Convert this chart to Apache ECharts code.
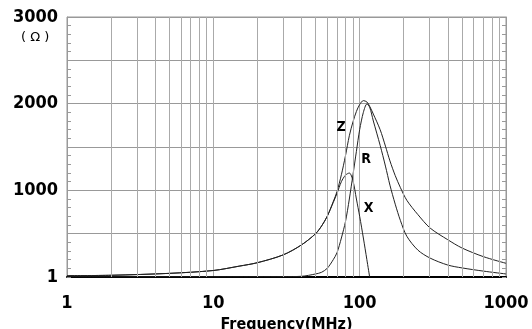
<!DOCTYPE html>
<html>
<head>
<meta charset="utf-8">
<script src="https://cdn.jsdelivr.net/npm/echarts@6/dist/echarts.min.js"></script>
<style>
  html, body { margin: 0; padding: 0; background: #fff; }
  #chart { width: 532px; height: 329px; }
</style>
</head>
<body>
<div id="chart"></div>
<script>
// 频率 (MHz)
const freqs = [1, 2, 5, 10, 15, 20, 30, 40, 50, 55, 60, 66, 70, 75, 80, 85, 90, 95, 100, 106, 112, 117,
  124, 138, 150, 161, 175, 190, 210, 250, 303, 400, 500, 700, 1000];
// 阻抗 Z (Ω)
const zVals = [15, 20, 42, 75, 125, 165, 255, 370, 500, 590, 700, 870, 985, 1180, 1400, 1630, 1790, 1910, 1990, 2035, 2020, 1970,
  1880, 1700, 1510, 1340, 1170, 1030, 885, 720, 565, 430, 335, 235, 158];
// 电阻 R (Ω)
const rVals = [2, 2, 2, 2, 2, 3, 4, 8, 35, 55, 100, 200, 280, 450, 640, 900, 1180, 1450, 1700, 1900, 1995, 1960,
  1800, 1520, 1280, 1060, 840, 650, 470, 310, 218, 138, 105, 68, 35];
// 电抗 X (Ω)，117MHz 之后为负，不画
const xVals = [15, 20, 42, 75, 125, 165, 255, 370, 500, 590, 700, 860, 965, 1100, 1175, 1200, 1110, 900, 700, 450, 200, 0];
// 对数网格的细线
const minorFreqs = [2, 3, 4, 5, 6, 7, 8, 9, 20, 30, 40, 50, 60, 70, 80, 90, 200, 300, 400, 500, 600, 700, 800, 900];
// 曲线名字的位置 [freq, ohm]
const curveLabels = [
  { name: 'Z', at: [74.6, 1725] },
  { name: 'R', at: [110.6, 1360] },
  { name: 'X', at: [115, 795] }
];

const pair = (vals) => vals.map((v, i) => [freqs[i], v]);
const bold = { fontFamily: '"DejaVu Sans Condensed", "DejaVu Sans"', fontWeight: 'bold', color: '#000' };

const chart = echarts.init(document.getElementById('chart'), null, { renderer: 'canvas' });

function curve(name, vals, extra) {
  return Object.assign({
    name: name,
    type: 'line',
    data: pair(vals),
    smooth: 0.3,
    showSymbol: false,
    symbol: 'none',
    lineStyle: { color: '#222', width: 1 },
    markPoint: {
      symbol: 'circle',
      symbolSize: 1,
      itemStyle: { color: 'rgba(0,0,0,0)' },
      label: Object.assign({ show: true, position: 'inside', fontSize: 14, formatter: name }, bold),
      data: [{ coord: curveLabels.find(c => c.name === name).at }]
    }
  }, extra || {});
}

const option = {
  animation: false,
  grid: {
    left: 67, right: 26, top: 17, bottom: 52,
    outerBoundsMode: 'none',
    containLabel: false,
    show: true, borderColor: '#999', borderWidth: 1
  },
  xAxis: {
    type: 'log',
    logBase: 10,
    min: 1,
    max: 1000,
    name: 'Frequency(MHz)',
    nameLocation: 'middle',
    nameGap: 35,
    nameTextStyle: Object.assign({ fontSize: 16 }, bold),
    axisLine: { show: true, lineStyle: { color: '#000', width: 2 } },
    axisTick: { show: false },
    axisLabel: Object.assign({ fontSize: 18, margin: 17, formatter: v => String(v) }, bold),
    splitLine: { show: true, lineStyle: { color: '#aaa', width: 1 } }
  },
  yAxis: [
    {
      // 左轴: 刻度文字和小刻度
      type: 'value',
      position: 'left',
      min: 0,
      max: 3000,
      interval: 1000,
      axisLine: { show: true, lineStyle: { color: '#999' } },
      axisTick: { show: true, inside: true, length: 4, lineStyle: { color: '#999' } },
      minorTick: { show: true, splitNumber: 10, length: 4, lineStyle: { color: '#999' } },
      axisLabel: Object.assign({
        fontSize: 18,
        margin: 9,
        padding: [4, 0, 0, 0],
        formatter: v => (v === 0 ? '1' : String(v))
      }, bold),
      splitLine: { show: false }
    },
    {
      // 右轴: 网格横线和右侧小刻度
      type: 'value',
      position: 'right',
      min: 0,
      max: 3000,
      interval: 500,
      axisLine: { show: true, lineStyle: { color: '#999' } },
      axisTick: { show: true, inside: true, length: 4, lineStyle: { color: '#999' } },
      minorTick: { show: true, splitNumber: 5, length: 4, lineStyle: { color: '#999' } },
      axisLabel: { show: false },
      splitLine: { show: true, lineStyle: { color: '#999', width: 1 } }
    }
  ],
  graphic: [
    {
      type: 'text',
      left: 21,
      top: 31,
      style: { text: '( Ω )', font: '13px "DejaVu Sans"', fill: '#000' }
    }
  ],
  series: [
    curve('Z', zVals, {
      z: 3,
      markLine: {
        silent: true,
        symbol: ['none', 'none'],
        label: { show: false },
        lineStyle: { color: '#aaa', width: 1, type: 'solid' },
        data: minorFreqs.map(f => ({ xAxis: f }))
      }
    }),
    curve('R', rVals, { z: 3 }),
    curve('X', xVals, { z: 3 })
  ]
};

chart.setOption(option);
</script>
</body>
</html>
